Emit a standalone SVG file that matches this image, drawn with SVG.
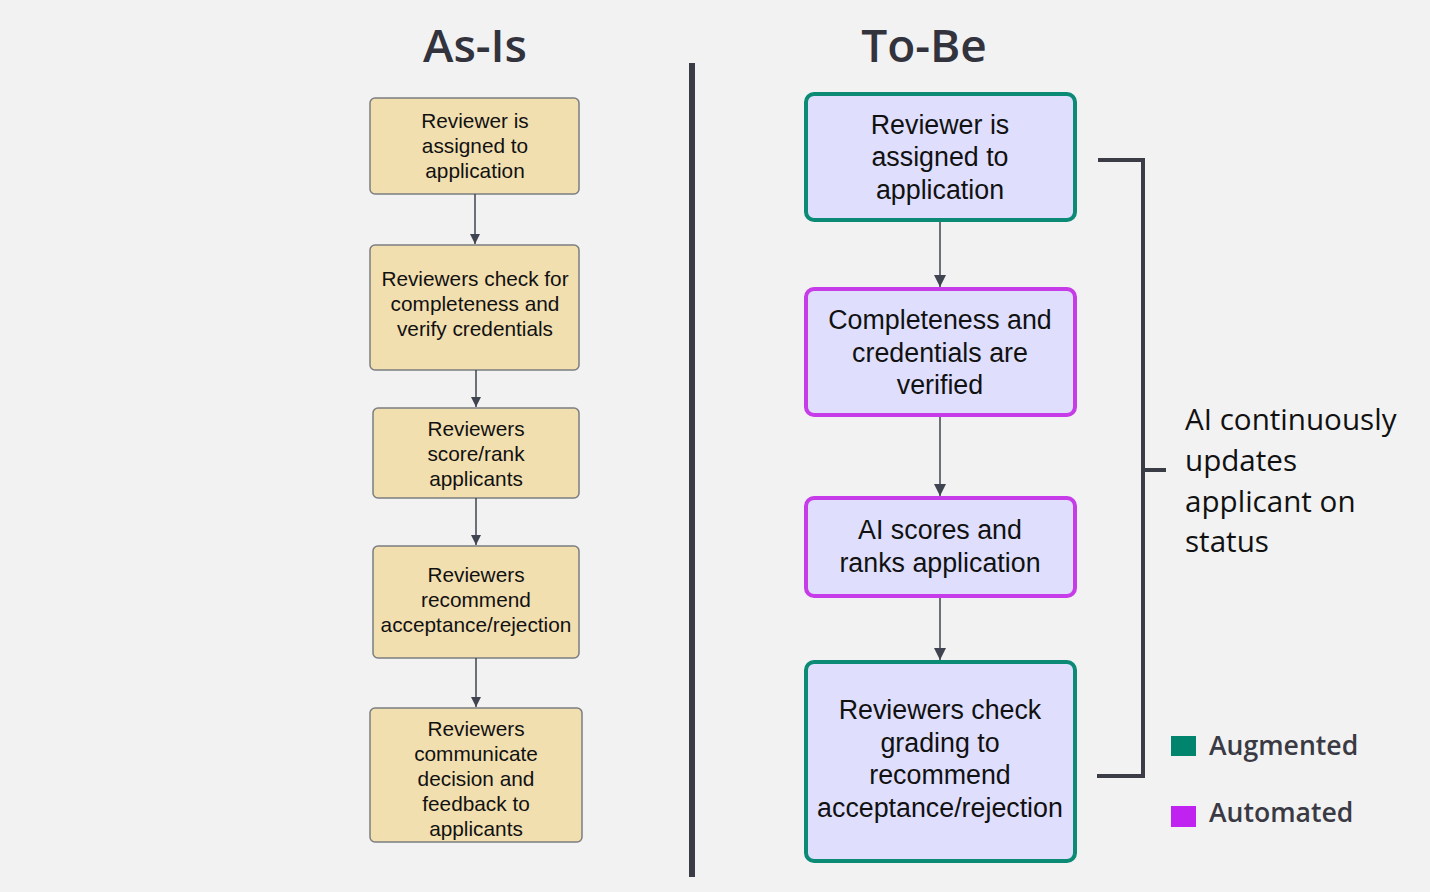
<svg xmlns="http://www.w3.org/2000/svg" width="1430" height="892" viewBox="0 0 1430 892">
<defs>
<style>
.title{font-family:"Open Sans",sans-serif;font-weight:600;font-size:46px;fill:#33333d;text-anchor:middle}
.old rect{fill:#f1dfb0;stroke:#7b7d80;stroke-width:1.5}
.old text{font-family:"Liberation Sans",Arial,sans-serif;font-size:20.8px;fill:#111;text-anchor:middle}
.new rect{fill:#dfdffd;stroke-width:4}
.aug rect{stroke:#0b8a76}
.auto rect{stroke:#c53ce8}
.new text{font-family:"Liberation Sans",Arial,sans-serif;font-size:26.8px;fill:#111;text-anchor:middle}
.conn line{stroke:#3f4450;stroke-width:1.5}
.note{font-family:"Open Sans",sans-serif;font-size:29.6px;fill:#111}
.leg{font-family:"Open Sans",sans-serif;font-weight:600;font-size:26.6px;fill:#3a3a44}
</style>
<marker id="ah" viewBox="0 0 10 10" refX="10" refY="5" markerWidth="10" markerHeight="10" markerUnits="userSpaceOnUse" orient="auto">
<path d="M0,0 L10,5 L0,10 z" fill="#3f4450"/>
</marker>
<marker id="ah2" viewBox="0 0 10 10" refX="10" refY="5" markerWidth="12" markerHeight="12" markerUnits="userSpaceOnUse" orient="auto">
<path d="M0,0 L10,5 L0,10 z" fill="#3f4450"/>
</marker>
</defs>
<rect width="1430" height="892" fill="#f2f2f2"/>
<text class="title" x="475" y="62">As-Is</text>
<text class="title" x="924" y="62">To-Be</text>
<line x1="692" y1="63" x2="692" y2="877" stroke="#3a3d45" stroke-width="6"/>

<g id="a1" class="old"><rect x="370" y="98" width="209" height="96" rx="5"/>
<text x="475" y="128">Reviewer is</text><text x="475" y="153">assigned to</text><text x="475" y="178">application</text></g>
<g id="a2" class="old"><rect x="370" y="245" width="209" height="125" rx="5"/>
<text x="475" y="286">Reviewers check for</text><text x="475" y="311">completeness and</text><text x="475" y="336">verify credentials</text></g>
<g id="a3" class="old"><rect x="373" y="408" width="206" height="90" rx="5"/>
<text x="476" y="436">Reviewers</text><text x="476" y="461">score/rank</text><text x="476" y="486">applicants</text></g>
<g id="a4" class="old"><rect x="373" y="546" width="206" height="112" rx="5"/>
<text x="476" y="582">Reviewers</text><text x="476" y="607">recommend</text><text x="476" y="632">acceptance/rejection</text></g>
<g id="a5" class="old"><rect x="370" y="708" width="212" height="134" rx="5"/>
<text x="476" y="736">Reviewers</text><text x="476" y="761">communicate</text><text x="476" y="786">decision and</text><text x="476" y="811">feedback to</text><text x="476" y="836">applicants</text></g>

<g id="b1" class="new aug"><rect x="806" y="94" width="269" height="126" rx="8"/>
<text x="940" y="134">Reviewer is</text><text x="940" y="166">assigned to</text><text x="940" y="199">application</text></g>
<g id="b2" class="new auto"><rect x="806" y="289" width="269" height="126" rx="8"/>
<text x="940" y="329">Completeness and</text><text x="940" y="362">credentials are</text><text x="940" y="394">verified</text></g>
<g id="b3" class="new auto"><rect x="806" y="498" width="269" height="98" rx="8"/>
<text x="940" y="539">AI scores and</text><text x="940" y="572">ranks application</text></g>
<g id="b4" class="new aug"><rect x="806" y="662" width="269" height="199" rx="8"/>
<text x="940" y="719">Reviewers check</text><text x="940" y="752">grading to</text><text x="940" y="784">recommend</text><text x="940" y="817">acceptance/rejection</text></g>

<g id="connectors" class="conn">
<line x1="475" y1="194" x2="475" y2="244" marker-end="url(#ah)"/>
<line x1="476" y1="370" x2="476" y2="407" marker-end="url(#ah)"/>
<line x1="476" y1="498" x2="476" y2="545" marker-end="url(#ah)"/>
<line x1="476" y1="658" x2="476" y2="707" marker-end="url(#ah)"/>
<line x1="940" y1="222" x2="940" y2="287" marker-end="url(#ah2)"/>
<line x1="940" y1="417" x2="940" y2="496" marker-end="url(#ah2)"/>
<line x1="940" y1="598" x2="940" y2="660" marker-end="url(#ah2)"/>
</g>

<g id="bracket" fill="none" stroke="#3a3d45" stroke-width="4">
<path d="M1098,160 H1143 V776 H1097"/>
<line x1="1143" y1="470" x2="1166" y2="470"/>
</g>
<g id="note">
<text class="note" x="1185" y="430">AI continuously</text>
<text class="note" x="1185" y="471">updates</text>
<text class="note" x="1185" y="512">applicant on</text>
<text class="note" x="1185" y="552">status</text>
</g>
<g id="legend">
<rect x="1171" y="736" width="25" height="20" fill="#00846e"/>
<text class="leg" x="1209" y="755">Augmented</text>
<rect x="1171" y="806" width="25" height="21" fill="#c022f0"/>
<text class="leg" x="1209" y="822">Automated</text>
</g>
</svg>
